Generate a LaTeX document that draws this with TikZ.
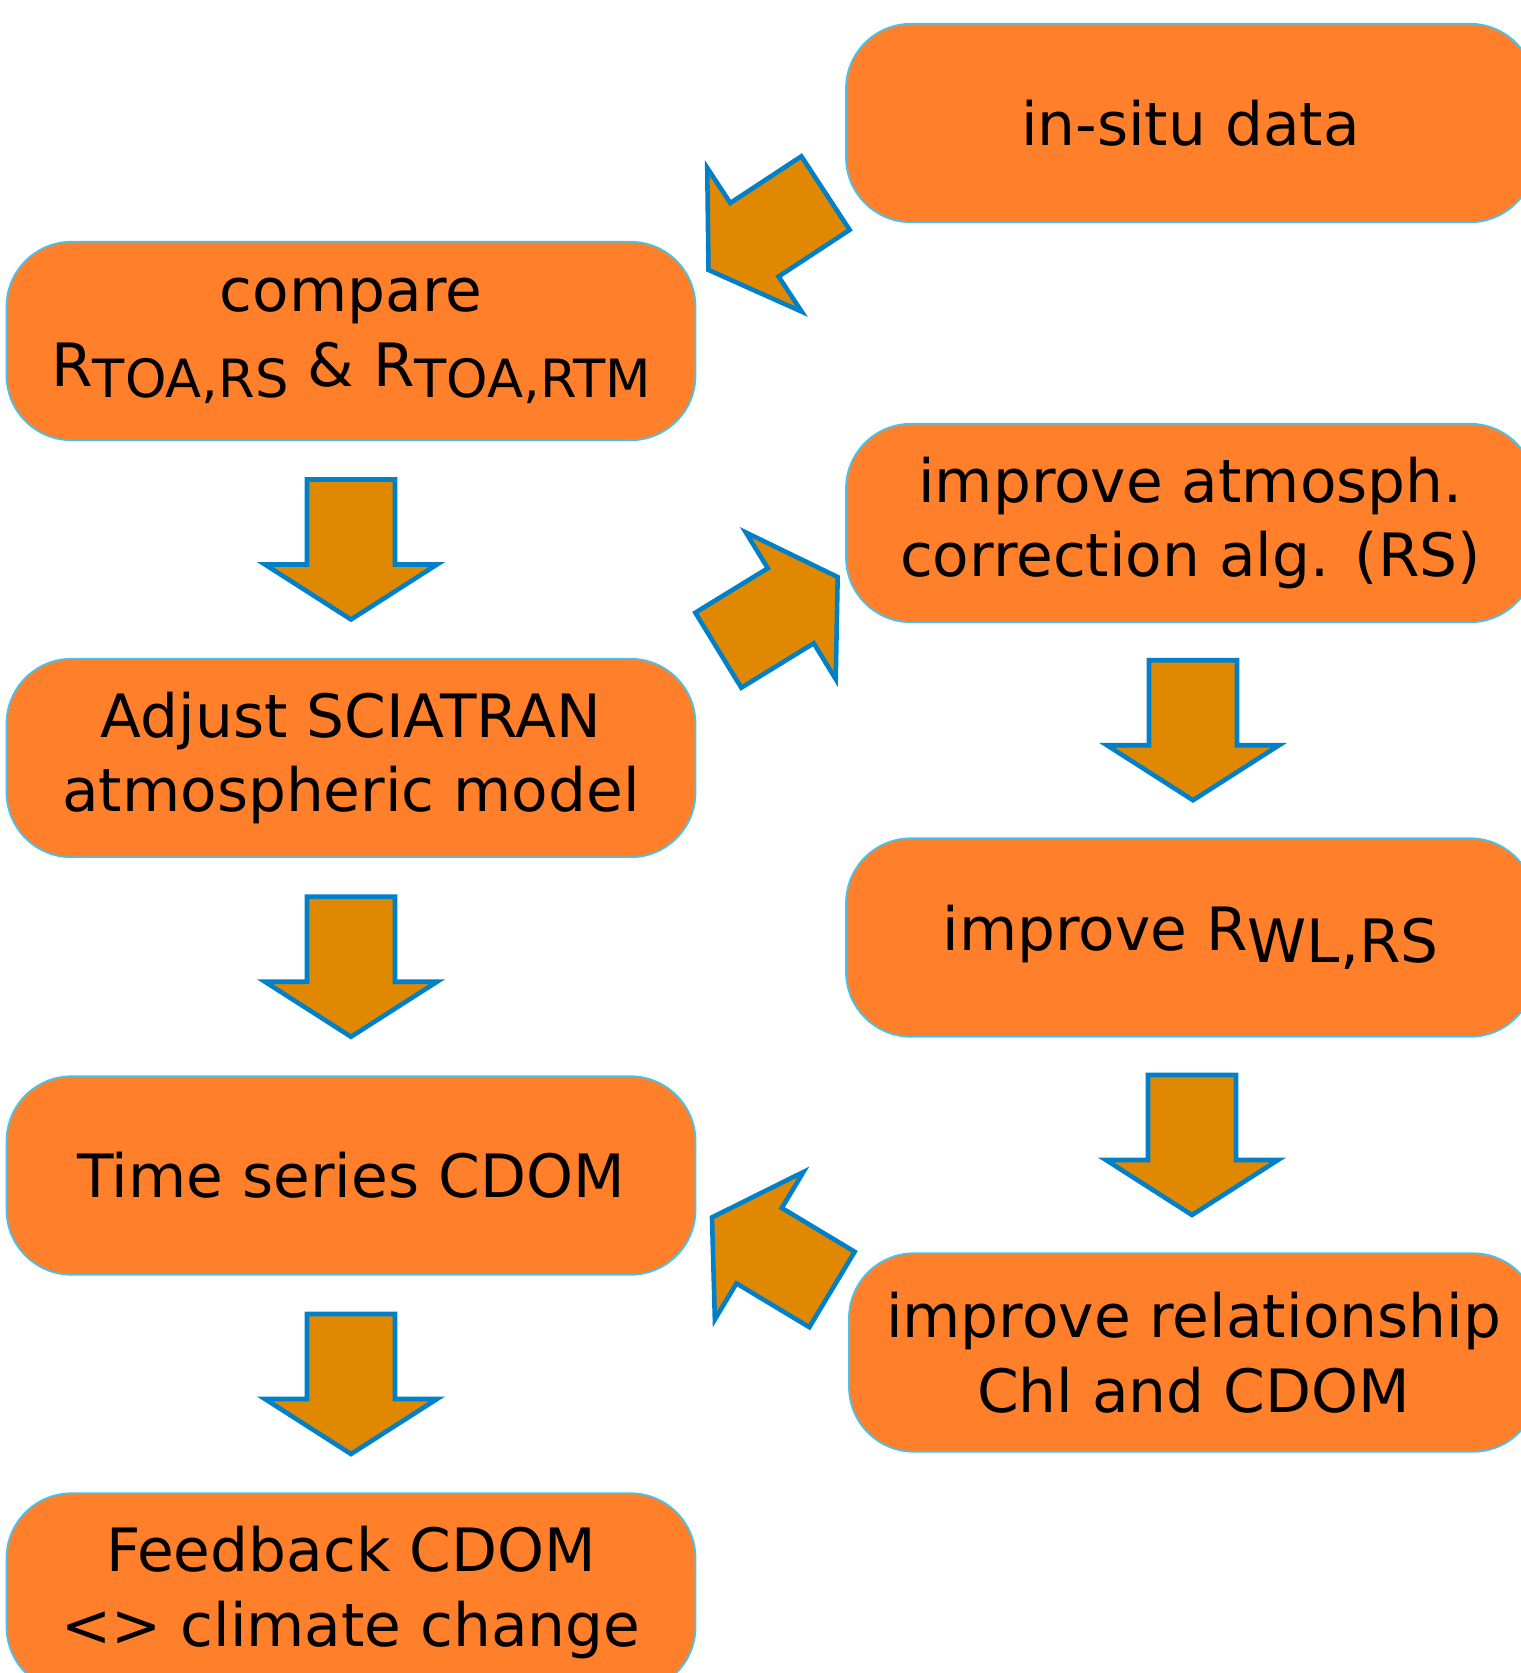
\documentclass[tikz,border=0pt]{standalone}
\usepackage{fontspec}
\setmainfont{DejaVu Sans}
\usepackage{xcolor}
\usetikzlibrary{calc, positioning}

\definecolor{boxfill}{HTML}{FF7F2A}
\definecolor{boxline}{RGB}{70,195,235}
\definecolor{arrowfill}{RGB}{224,136,0}
\definecolor{arrowline}{RGB}{0,128,200}

% lowered, slightly smaller index text
\newcommand{\lowsub}[1]{\raisebox{-0.18em}{\fontsize{15}{18}\selectfont #1}}
% lowered index text at full size
\newcommand{\lowidx}[1]{\raisebox{-0.2em}{#1}}

\begin{document}
\begin{tikzpicture}[
    task/.style={rectangle, rounded corners=0.65cm, draw=boxline, line width=0.5pt, fill=boxfill,
                 minimum width=6.89cm, minimum height=1.985cm, inner sep=0pt, align=center,
                 font=\fontsize{17}{21.3}\selectfont},
    arrowbody/.style={draw=arrowline, fill=arrowfill, line width=1.3pt, line join=miter},
    blockarrow/.pic={\draw[arrowbody] (-0.70,-0.44) -- (0.15,-0.44) -- (0.15,-0.86) -- (0.70,0)
                     -- (0.15,0.86) -- (0.15,0.44) -- (-0.70,0.44) -- cycle;}
]
\useasboundingbox (0,0) rectangle (15.21,-16.73);
\clip (0,0) rectangle (15.21,-16.73);

% Left column
\node[task] (compare)    at (3.51,-3.41)  {compare\\R\lowsub{TOA,RS} \& R\lowsub{TOA,RTM}};
\node[task] (adjust)     at (3.51,-7.58)  {Adjust SCIATRAN\\atmospheric model};
\node[task] (timeseries) at (3.51,-11.755) {Time series CDOM};
\node[task] (feedback)   at (3.51,-15.925) {Feedback CDOM\\<> climate change};

% Right column
\node[task] (insitu)  at (11.905,-1.23)  {in-situ data};
\node[task] (atmcorr) at (11.905,-5.23)  {improve atmosph.\\correction alg. (RS)};
\node[task] (rwl)     at (11.905,-9.375) {improve R\lowidx{WL,RS}};
\node[task] (chlcdom) at (11.935,-13.525) {improve relationship\\Chl and CDOM};

% Downward block arrows
\pic[rotate=-90] at ($(compare.south)!0.5!(adjust.north)$) {blockarrow};
\pic[rotate=-90] at ($(adjust.south)!0.5!(timeseries.north)$) {blockarrow};
\pic[rotate=-90] at ($(timeseries.south)!0.5!(feedback.north)$) {blockarrow};
\pic[rotate=-90] at ($(atmcorr.south)!0.5!(rwl.north)+(0.025,0)$) {blockarrow};
\pic[rotate=-90] at ($(rwl.south)!0.5!(chlcdom.north)$) {blockarrow};

% Slanted block arrows between the columns
\pic[rotate=213.3] at (7.67,-2.315) {blockarrow};
\pic[rotate=31.5]  at (7.78,-6.136) {blockarrow};
\pic[rotate=149]   at (7.72,-12.534) {blockarrow};

\end{tikzpicture}
\end{document}
